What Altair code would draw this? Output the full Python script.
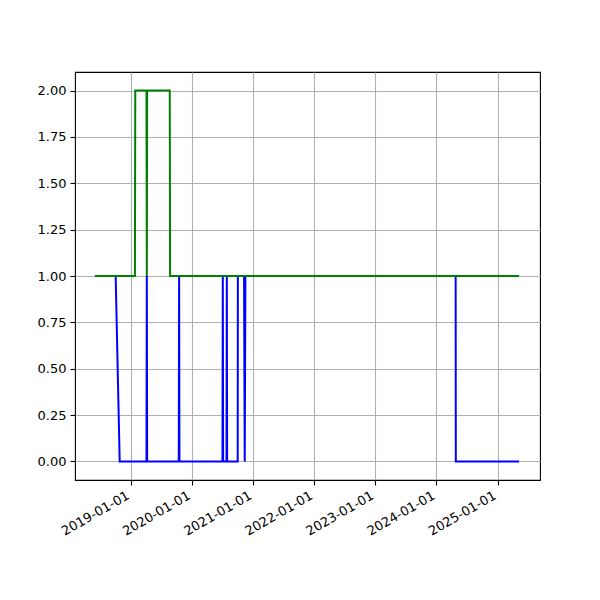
import altair as alt
import pandas as pd

blue_dates = ["2018-10-03", "2018-10-27", "2019-04-05", "2019-04-07", "2019-04-09",
              "2019-10-15", "2019-10-17", "2019-10-19", "2020-07-02", "2020-07-04",
              "2020-07-06", "2020-07-26", "2020-07-28", "2020-07-30", "2020-10-01",
              "2020-10-02", "2020-11-08", "2020-11-12", "2020-11-16", "2024-04-25",
              "2024-04-26", "2025-05-09"]
blue_values = [1, 0, 0, 1, 0,
               0, 1, 0, 0, 1,
               0, 0, 1, 0, 0,
               1, 1, 0, 1, 1,
               0, 0]

green_dates = ["2018-06-01", "2019-01-26", "2019-01-28", "2019-04-05", "2019-04-07",
               "2019-04-09", "2019-08-22", "2019-08-24", "2025-05-09"]
green_values = [1, 1, 2, 2, 1,
                2, 2, 1, 1]

years = [2019, 2020, 2021, 2022, 2023, 2024, 2025]
y_ticks = [0.0, 0.25, 0.5, 0.75, 1.0, 1.25, 1.5, 1.75, 2.0]

blue_df = pd.DataFrame({"date": blue_dates, "value": blue_values, "order": range(len(blue_dates))})
green_df = pd.DataFrame({"date": green_dates, "value": green_values, "order": range(len(green_dates))})

x_enc = alt.X(
    "date:T",
    scale=alt.Scale(domain=[alt.DateTime(year=2018, month=2, date=2),
                            alt.DateTime(year=2025, month=9, date=11)]),
    axis=alt.Axis(
        values=[alt.DateTime(year=y, month=1, date=1) for y in years],
        format="%Y-%m-%d",
        labelAngle=330,
        labelAlign="right",
        labelBaseline="top",
        labelOverlap=False,
        labelBound=False,
        labelOffset=-6,
        title=None,
    ),
)
y_enc = alt.Y(
    "value:Q",
    scale=alt.Scale(domain=[-0.1, 2.1], nice=False, zero=False),
    axis=alt.Axis(values=y_ticks, format=".2f", title=None),
)

blue = alt.Chart(blue_df).mark_line(color="#0000ff", strokeWidth=2).encode(
    x=x_enc, y=y_enc, order="order:Q"
)
green = alt.Chart(green_df).mark_line(color="#008000", strokeWidth=2).encode(
    x=x_enc, y=y_enc, order="order:Q"
)

chart = (
    alt.layer(blue, green)
    .properties(
        width=465,
        height=408,
        autosize=alt.AutoSizeParams(type="none"),
        padding={"left": 67, "top": 64, "right": 52, "bottom": 112},
    )
    .configure_view(stroke="black", strokeWidth=1.1)
    .configure_axis(
        grid=True,
        gridColor="#b0b0b0",
        gridWidth=1.1,
        domain=False,
        tickColor="black",
        tickSize=5,
        tickWidth=1.1,
        labelFont="DejaVu Sans",
        labelFontSize=13,
        labelColor="black",
        labelPadding=4,
    )
)

chart.save("out.html", embed_options={"renderer": "svg", "actions": False})
